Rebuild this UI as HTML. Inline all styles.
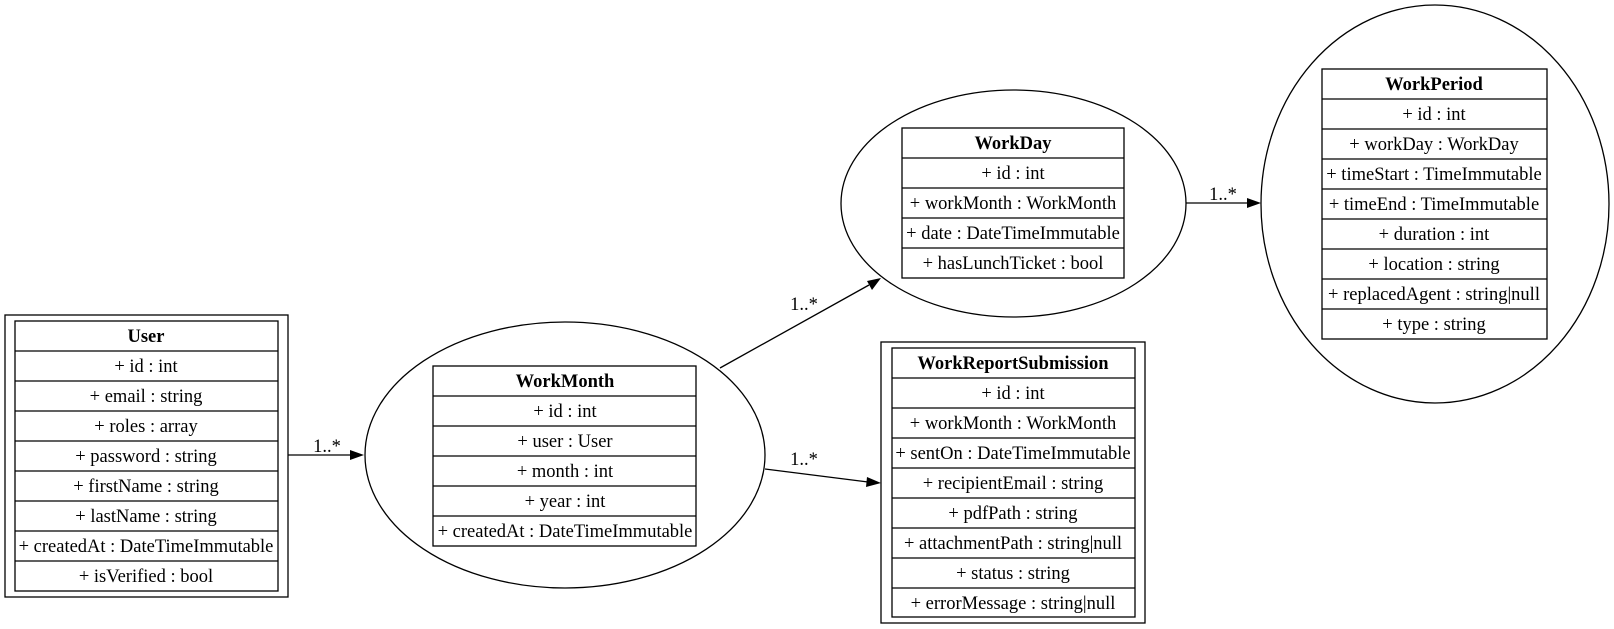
<!DOCTYPE html>
<html><head><meta charset="utf-8"><style>
html,body{margin:0;padding:0;background:#fff;width:1614px;height:629px;overflow:hidden}
svg text{font-family:"Liberation Serif",serif;font-size:18.5px;text-anchor:middle;fill:#000}
.b{font-weight:bold}
</style></head><body>
<svg width="1614" height="629" viewBox="0 0 1614 629" xmlns="http://www.w3.org/2000/svg">
<g fill="none" stroke="#000" stroke-width="1.3">
<rect x="5" y="315" width="283" height="282"/>
<rect x="15" y="321" width="263" height="270"/>
<path d="M15 351H278M15 381H278M15 411H278M15 441H278M15 471H278M15 501H278M15 531H278M15 561H278"/>
<ellipse cx="565" cy="455" rx="200" ry="133"/>
<rect x="433" y="366" width="263" height="180"/>
<path d="M433 396H696M433 426H696M433 456H696M433 486H696M433 516H696"/>
<ellipse cx="1013.5" cy="203.5" rx="172.5" ry="113.5"/>
<rect x="902" y="128" width="222" height="150"/>
<path d="M902 158H1124M902 188H1124M902 218H1124M902 248H1124"/>
<ellipse cx="1435" cy="204" rx="174" ry="199"/>
<rect x="1322" y="69" width="225" height="270"/>
<path d="M1322 99H1547M1322 129H1547M1322 159H1547M1322 189H1547M1322 219H1547M1322 249H1547M1322 279H1547M1322 309H1547"/>
<rect x="881" y="342" width="264" height="281"/>
<rect x="892" y="348" width="243" height="269"/>
<path d="M892 378H1135M892 408H1135M892 438H1135M892 468H1135M892 498H1135M892 528H1135M892 558H1135M892 588H1135"/>
<path d="M288 455H351"/>
<path d="M720 368L869 285"/>
<path d="M765 469L868 482"/>
<path d="M1186 203H1248"/>
</g>
<g fill="#000">
<polygon points="364,455 350,450 350,460"/>
<polygon points="881,278 872,290 867,281"/>
<polygon points="881,483 867,477 866,487"/>
<polygon points="1261,203 1247,198 1247,208"/>
</g>
<text x="327" y="452">1..*</text>
<text x="804" y="310">1..*</text>
<text x="804" y="465">1..*</text>
<text x="1223" y="200">1..*</text>

<text class="b" x="146" y="342">User</text>
<text x="146" y="372">+ id : int</text>
<text x="146" y="402">+ email : string</text>
<text x="146" y="432">+ roles : array</text>
<text x="146" y="462">+ password : string</text>
<text x="146" y="492">+ firstName : string</text>
<text x="146" y="522">+ lastName : string</text>
<text x="146" y="552">+ createdAt : DateTimeImmutable</text>
<text x="146" y="582">+ isVerified : bool</text>

<text class="b" x="565" y="387">WorkMonth</text>
<text x="565" y="417">+ id : int</text>
<text x="565" y="447">+ user : User</text>
<text x="565" y="477">+ month : int</text>
<text x="565" y="507">+ year : int</text>
<text x="565" y="537">+ createdAt : DateTimeImmutable</text>

<text class="b" x="1013" y="149">WorkDay</text>
<text x="1013" y="179">+ id : int</text>
<text x="1013" y="209">+ workMonth : WorkMonth</text>
<text x="1013" y="239">+ date : DateTimeImmutable</text>
<text x="1013" y="269">+ hasLunchTicket : bool</text>

<text class="b" x="1434" y="90">WorkPeriod</text>
<text x="1434" y="120">+ id : int</text>
<text x="1434" y="150">+ workDay : WorkDay</text>
<text x="1434" y="180">+ timeStart : TimeImmutable</text>
<text x="1434" y="210">+ timeEnd : TimeImmutable</text>
<text x="1434" y="240">+ duration : int</text>
<text x="1434" y="270">+ location : string</text>
<text x="1434" y="300">+ replacedAgent : string|null</text>
<text x="1434" y="330">+ type : string</text>

<text class="b" x="1013" y="369">WorkReportSubmission</text>
<text x="1013" y="399">+ id : int</text>
<text x="1013" y="429">+ workMonth : WorkMonth</text>
<text x="1013" y="459">+ sentOn : DateTimeImmutable</text>
<text x="1013" y="489">+ recipientEmail : string</text>
<text x="1013" y="519">+ pdfPath : string</text>
<text x="1013" y="549">+ attachmentPath : string|null</text>
<text x="1013" y="579">+ status : string</text>
<text x="1013" y="609">+ errorMessage : string|null</text>
</svg>
</body></html>
